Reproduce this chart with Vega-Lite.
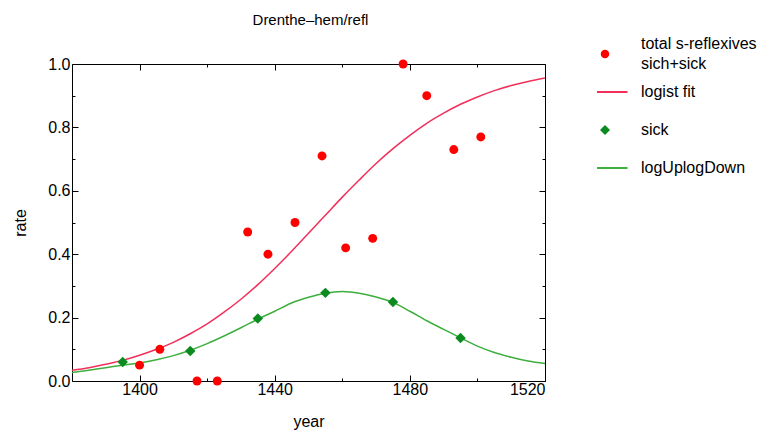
{
  "$schema": "https://vega.github.io/schema/vega-lite/v6.json",
  "width": 473,
  "height": 317,
  "autosize": {"type": "none"},
  "padding": {"left": 72, "top": 64, "right": 234, "bottom": 51},
  "background": "white",
  "config": {
    "view": {"stroke": "black", "strokeWidth": 1},
    "font": "Liberation Sans",
    "axis": {"grid": false, "domain": false, "tickColor": "black", "labelColor": "black", "titleColor": "black", "labelFont": "Liberation Sans", "labelFontSize": 16, "titleFont": "Liberation Sans", "titleFontSize": 16, "titleFontWeight": "normal"}
  },
  "datasets": {
    "pts": [
      {"year": 1400, "rate": 0.05, "series": "total s-reflexives sich+sick"},
      {"year": 1406, "rate": 0.10, "series": "total s-reflexives sich+sick"},
      {"year": 1417, "rate": 0.0, "series": "total s-reflexives sich+sick"},
      {"year": 1423, "rate": 0.0, "series": "total s-reflexives sich+sick"},
      {"year": 1432, "rate": 0.47, "series": "total s-reflexives sich+sick"},
      {"year": 1438, "rate": 0.40, "series": "total s-reflexives sich+sick"},
      {"year": 1446, "rate": 0.50, "series": "total s-reflexives sich+sick"},
      {"year": 1454, "rate": 0.71, "series": "total s-reflexives sich+sick"},
      {"year": 1461, "rate": 0.42, "series": "total s-reflexives sich+sick"},
      {"year": 1469, "rate": 0.45, "series": "total s-reflexives sich+sick"},
      {"year": 1478, "rate": 1.0, "series": "total s-reflexives sich+sick"},
      {"year": 1485, "rate": 0.90, "series": "total s-reflexives sich+sick"},
      {"year": 1493, "rate": 0.73, "series": "total s-reflexives sich+sick"},
      {"year": 1501, "rate": 0.77, "series": "total s-reflexives sich+sick"},
      {"year": 1395, "rate": 0.06, "series": "sick"},
      {"year": 1415, "rate": 0.095, "series": "sick"},
      {"year": 1435, "rate": 0.197, "series": "sick"},
      {"year": 1455, "rate": 0.278, "series": "sick"},
      {"year": 1475, "rate": 0.249, "series": "sick"},
      {"year": 1495, "rate": 0.136, "series": "sick"}
    ],
    "curves": [
      {"year": 1380, "rate": 0.034, "series": "logist fit"},
      {"year": 1385, "rate": 0.042, "series": "logist fit"},
      {"year": 1390, "rate": 0.053, "series": "logist fit"},
      {"year": 1395, "rate": 0.065, "series": "logist fit"},
      {"year": 1400, "rate": 0.081, "series": "logist fit"},
      {"year": 1405, "rate": 0.100, "series": "logist fit"},
      {"year": 1410, "rate": 0.122, "series": "logist fit"},
      {"year": 1415, "rate": 0.149, "series": "logist fit"},
      {"year": 1420, "rate": 0.180, "series": "logist fit"},
      {"year": 1425, "rate": 0.217, "series": "logist fit"},
      {"year": 1430, "rate": 0.258, "series": "logist fit"},
      {"year": 1435, "rate": 0.304, "series": "logist fit"},
      {"year": 1440, "rate": 0.355, "series": "logist fit"},
      {"year": 1445, "rate": 0.409, "series": "logist fit"},
      {"year": 1450, "rate": 0.466, "series": "logist fit"},
      {"year": 1455, "rate": 0.523, "series": "logist fit"},
      {"year": 1460, "rate": 0.580, "series": "logist fit"},
      {"year": 1465, "rate": 0.634, "series": "logist fit"},
      {"year": 1470, "rate": 0.686, "series": "logist fit"},
      {"year": 1475, "rate": 0.733, "series": "logist fit"},
      {"year": 1480, "rate": 0.775, "series": "logist fit"},
      {"year": 1485, "rate": 0.813, "series": "logist fit"},
      {"year": 1490, "rate": 0.845, "series": "logist fit"},
      {"year": 1495, "rate": 0.873, "series": "logist fit"},
      {"year": 1500, "rate": 0.896, "series": "logist fit"},
      {"year": 1505, "rate": 0.916, "series": "logist fit"},
      {"year": 1510, "rate": 0.932, "series": "logist fit"},
      {"year": 1515, "rate": 0.945, "series": "logist fit"},
      {"year": 1520, "rate": 0.956, "series": "logist fit"},
      {"year": 1380, "rate": 0.027, "series": "logUplogDown"},
      {"year": 1385, "rate": 0.034, "series": "logUplogDown"},
      {"year": 1390, "rate": 0.042, "series": "logUplogDown"},
      {"year": 1395, "rate": 0.050, "series": "logUplogDown"},
      {"year": 1400, "rate": 0.057, "series": "logUplogDown"},
      {"year": 1405, "rate": 0.067, "series": "logUplogDown"},
      {"year": 1410, "rate": 0.080, "series": "logUplogDown"},
      {"year": 1415, "rate": 0.097, "series": "logUplogDown"},
      {"year": 1420, "rate": 0.118, "series": "logUplogDown"},
      {"year": 1425, "rate": 0.142, "series": "logUplogDown"},
      {"year": 1430, "rate": 0.168, "series": "logUplogDown"},
      {"year": 1435, "rate": 0.195, "series": "logUplogDown"},
      {"year": 1440, "rate": 0.220, "series": "logUplogDown"},
      {"year": 1445, "rate": 0.246, "series": "logUplogDown"},
      {"year": 1450, "rate": 0.264, "series": "logUplogDown"},
      {"year": 1455, "rate": 0.277, "series": "logUplogDown"},
      {"year": 1460, "rate": 0.282, "series": "logUplogDown"},
      {"year": 1465, "rate": 0.277, "series": "logUplogDown"},
      {"year": 1470, "rate": 0.265, "series": "logUplogDown"},
      {"year": 1475, "rate": 0.248, "series": "logUplogDown"},
      {"year": 1480, "rate": 0.220, "series": "logUplogDown"},
      {"year": 1485, "rate": 0.190, "series": "logUplogDown"},
      {"year": 1490, "rate": 0.163, "series": "logUplogDown"},
      {"year": 1495, "rate": 0.136, "series": "logUplogDown"},
      {"year": 1500, "rate": 0.110, "series": "logUplogDown"},
      {"year": 1505, "rate": 0.090, "series": "logUplogDown"},
      {"year": 1510, "rate": 0.075, "series": "logUplogDown"},
      {"year": 1515, "rate": 0.063, "series": "logUplogDown"},
      {"year": 1520, "rate": 0.055, "series": "logUplogDown"}
    ]
  },
  "layer": [
    {
      "data": {"name": "curves"},
      "mark": {"type": "line", "strokeWidth": 1.5, "interpolate": "monotone"},
      "encoding": {
        "x": {"field": "year", "type": "quantitative", "scale": {"domain": [1380, 1520], "nice": false, "zero": false},
              "axis": {"orient": "top", "values": [1400, 1420, 1440, 1460, 1480, 1500, 1520], "labels": false,
                       "title": "Drenthe–hem/refl", "titleFontSize": 15, "titlePadding": 36, "titleX": 238,
                       "tickSize": {"condition": {"test": "datum.value % 40 == 0", "value": -6}, "value": -3}}},
        "y": {"field": "rate", "type": "quantitative", "scale": {"domain": [0, 1], "nice": false},
              "axis": {"orient": "right", "values": [0, 0.1, 0.2, 0.3, 0.4, 0.5, 0.6, 0.7, 0.8, 0.9, 1.0], "labels": false, "title": null,
                       "tickSize": {"condition": {"test": "round(datum.value*10) % 2 == 0", "value": -6}, "value": -3}}},
        "color": {"field": "series", "type": "nominal",
                  "legend": {"orient": "none", "legendX": 525, "legendY": -29, "padding": 0, "title": null,
                             "labelFont": "Liberation Sans", "labelFontSize": 16, "labelColor": "black", "labelLimit": 300,
                             "labelOffset": 28, "rowPadding": -1, "clipHeight": 38,
                             "labelExpr": "datum.value == 'total s-reflexives sich+sick' ? ['total s-reflexives', 'sich+sick'] : datum.label",
                             "encode": {
                               "symbols": {"update": {
                                 "fill": {"scale": "color", "field": "value"},
                                 "stroke": {"signal": "datum.value == 'logist fit' ? '#fa5a7c' : datum.value == 'logUplogDown' ? '#5cc05c' : scale('color', datum.value)"},
                                 "opacity": {"value": 1},
                                 "size": {"signal": "datum.value == 'logist fit' || datum.value == 'logUplogDown' ? 2025 : datum.value == 'sick' ? 100 : 72"},
                                 "strokeWidth": {"signal": "datum.value == 'logist fit' || datum.value == 'logUplogDown' ? 2 : 0"}
                               }},
                               "labels": {"update": {"lineHeight": {"value": 20}, "dy": {"signal": "datum.value == 'total s-reflexives sich+sick' ? -10.5 : 0"}}}
                             }}},
        "detail": {"field": "series"}
      }
    },
    {
      "data": {"name": "pts"},
      "mark": {"type": "point", "filled": true, "opacity": 1},
      "encoding": {
        "x": {"field": "year", "type": "quantitative",
              "axis": {"orient": "bottom", "values": [1400, 1420, 1440, 1460, 1480, 1500, 1520], "format": "d", "title": "year",
                       "labelExpr": "datum.value % 40 == 0 ? datum.label : ''", "labelPadding": 6, "titlePadding": 16,
                       "tickSize": {"condition": {"test": "datum.value % 40 == 0", "value": -6}, "value": -3}}},
        "y": {"field": "rate", "type": "quantitative",
              "axis": {"orient": "left", "values": [0, 0.1, 0.2, 0.3, 0.4, 0.5, 0.6, 0.7, 0.8, 0.9, 1.0], "format": ".1f", "title": "rate",
                       "labelExpr": "round(datum.value*10) % 2 == 0 ? datum.label : ''", "labelPadding": 8, "titlePadding": 19,
                       "tickSize": {"condition": {"test": "round(datum.value*10) % 2 == 0", "value": -6}, "value": -3}}},
        "color": {"field": "series", "type": "nominal",
                  "scale": {"domain": ["total s-reflexives sich+sick", "logist fit", "sick", "logUplogDown"], "range": ["#ff0000", "#f0305a", "#0b8a1f", "#3eae3e"]},
                  "legend": {"orient": "none", "legendX": 525, "legendY": -29, "padding": 0, "title": null,
                             "labelFont": "Liberation Sans", "labelFontSize": 16, "labelColor": "black", "labelLimit": 300,
                             "labelOffset": 28, "rowPadding": -1, "clipHeight": 38,
                             "labelExpr": "datum.value == 'total s-reflexives sich+sick' ? ['total s-reflexives', 'sich+sick'] : datum.label",
                             "encode": {
                               "symbols": {"update": {
                                 "fill": {"scale": "color", "field": "value"},
                                 "stroke": {"signal": "datum.value == 'logist fit' ? '#fa5a7c' : datum.value == 'logUplogDown' ? '#5cc05c' : scale('color', datum.value)"},
                                 "opacity": {"value": 1},
                                 "size": {"signal": "datum.value == 'logist fit' || datum.value == 'logUplogDown' ? 2025 : datum.value == 'sick' ? 100 : 72"},
                                 "strokeWidth": {"signal": "datum.value == 'logist fit' || datum.value == 'logUplogDown' ? 2 : 0"}
                               }},
                               "labels": {"update": {"lineHeight": {"value": 20}, "dy": {"signal": "datum.value == 'total s-reflexives sich+sick' ? -10.5 : 0"}}}
                             }}},
        "shape": {"field": "series", "type": "nominal",
                  "scale": {"domain": ["total s-reflexives sich+sick", "logist fit", "sick", "logUplogDown"], "range": ["circle", "stroke", "diamond", "stroke"]},
                  "legend": {"orient": "none", "legendX": 525, "legendY": -29, "padding": 0, "title": null,
                             "labelFont": "Liberation Sans", "labelFontSize": 16, "labelColor": "black", "labelLimit": 300,
                             "labelOffset": 28, "rowPadding": -1, "clipHeight": 38,
                             "labelExpr": "datum.value == 'total s-reflexives sich+sick' ? ['total s-reflexives', 'sich+sick'] : datum.label",
                             "encode": {
                               "symbols": {"update": {
                                 "fill": {"scale": "color", "field": "value"},
                                 "stroke": {"signal": "datum.value == 'logist fit' ? '#fa5a7c' : datum.value == 'logUplogDown' ? '#5cc05c' : scale('color', datum.value)"},
                                 "opacity": {"value": 1},
                                 "size": {"signal": "datum.value == 'logist fit' || datum.value == 'logUplogDown' ? 2025 : datum.value == 'sick' ? 100 : 72"},
                                 "strokeWidth": {"signal": "datum.value == 'logist fit' || datum.value == 'logUplogDown' ? 2 : 0"}
                               }},
                               "labels": {"update": {"lineHeight": {"value": 20}, "dy": {"signal": "datum.value == 'total s-reflexives sich+sick' ? -10.5 : 0"}}}
                             }}},
        "size": {"condition": {"test": "datum.series == 'sick'", "value": 110}, "value": 80}
      }
    }
  ],
  "resolve": {"axis": {"x": "independent", "y": "independent"}}
}
